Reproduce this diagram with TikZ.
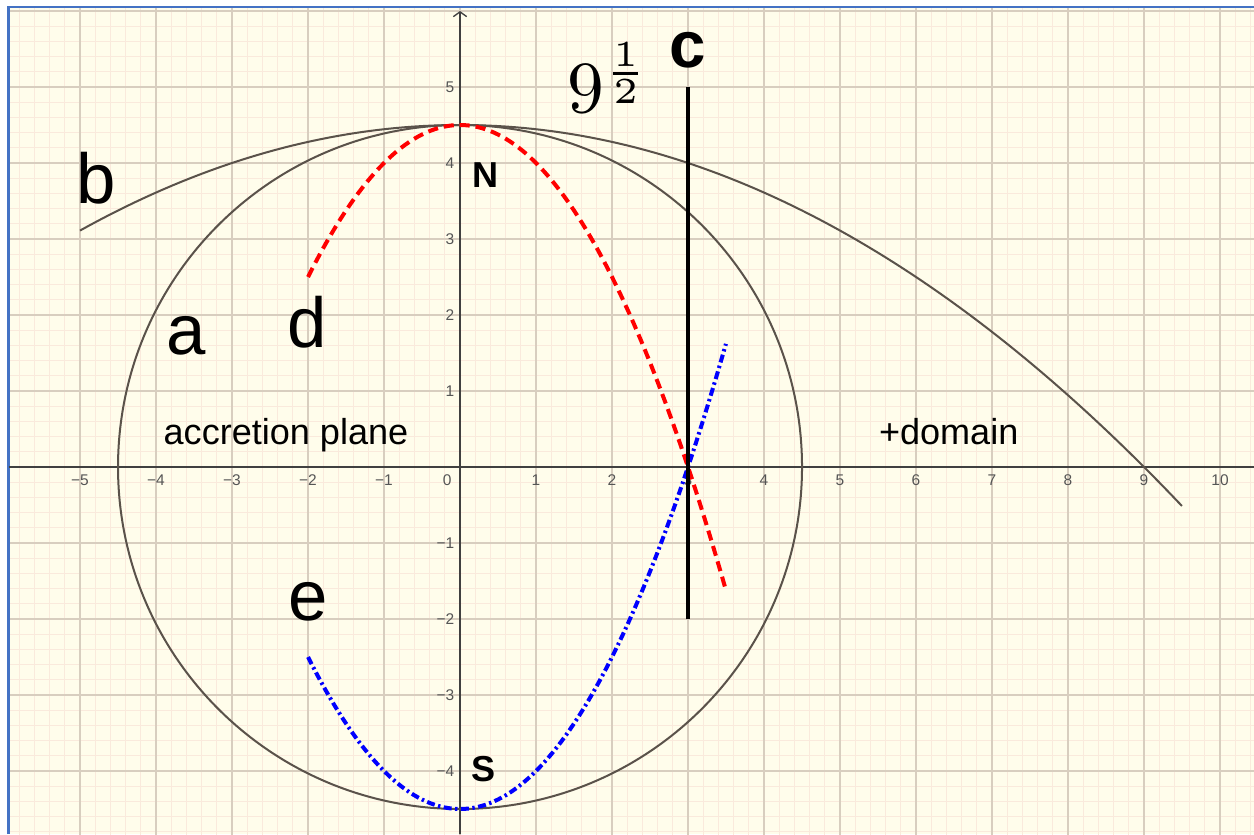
\documentclass[tikz,border=0pt]{standalone}
\usepackage{fix-cm}
\usepackage[no-math]{fontspec}
\setmainfont{Liberation Sans}
\usepackage{xcolor}
\usepackage{graphicx}
\usepackage{amsmath}
\usetikzlibrary{arrows.meta}

\definecolor{paper}{HTML}{FFFDEB}
\definecolor{minorgrid}{HTML}{FAEADC}
\definecolor{majorgrid}{HTML}{D8CEBF}
\definecolor{curvegray}{HTML}{5A524A}
\definecolor{axisgray}{HTML}{404040}
\definecolor{tickgray}{HTML}{555555}
\definecolor{frameblue}{HTML}{4472C4}

\tikzset{
    curve/.style={curvegray, line width=0.75pt},
    reddash/.style={red, line width=1.5pt, dash pattern=on 3.8pt off 2.2pt},
    bluedashdot/.style={blue, line width=1.5pt, dash pattern=on 3pt off 1.3pt on 0.9pt off 1.3pt},
    biglabel/.style={font=\fontsize{26.5}{30}\selectfont},
    pointlabel/.style={font=\fontsize{13.5}{16}\selectfont\bfseries},
    textlabel/.style={font=\fontsize{13.5}{16}\selectfont},
    ticklabel/.style={font=\fontsize{5.8}{6.5}\selectfont, text=tickgray, inner sep=0pt}
}

\begin{document}
\begin{tikzpicture}[x=1cm,y=1cm,>=Latex]
    % Page
    \useasboundingbox (-6.053,-4.829) rectangle (10.447,6.145);
    \fill[white] (-6.053,-4.829) rectangle (10.447,6.145);
    \fill[paper] (-5.935,-4.829) rectangle (10.447,6.053);

    % Grid
    \begin{scope}
        \clip (-5.935,-4.829) rectangle (10.447,6.053);
        \draw[minorgrid, line width=0.35pt, step=0.2] (-6,-5) grid (10.6,6.2);
        \draw[majorgrid, line width=0.4pt, step=1] (-6,-5) grid (10.6,6.2);
    \end{scope}

    % Frame
    \draw[frameblue, line width=1.1pt] (-5.935,-4.829) -- (-5.935,6.053) -- (10.447,6.053);

    % Axes
    \draw[axisgray, line width=0.5pt] (-5.935,0) -- (10.447,0);
    \draw[axisgray, line width=0.5pt, -{Straight Barb[length=1.8pt,width=5pt]}] (0,-4.829) -- (0,6.0);

    % Tick labels
    \node[ticklabel] (xt0) at (-0.17,-0.17) {0};
    \foreach \x in {1,...,10}
        \node[ticklabel] (xt\x) at (\x,-0.17) {\x};
    \foreach \x in {1,...,5}
        \node[ticklabel] (xtm\x) at (-\x,-0.17) {−\x};
    \foreach \y in {1,...,5}
        \node[ticklabel, anchor=east] (yt\y) at (-0.07,\y) {\y};
    \foreach \y in {1,...,4}
        \node[ticklabel, anchor=east] (ytm\y) at (-0.07,-\y) {−\y};

    % Circle a
    \draw[curve] (0,0) circle (4.5);
    % Parabola b
    \draw[curve, domain=-5:9.5, samples=120] plot (\x,{4.5-\x*\x/18});
    % Parabola d
    \draw[reddash, domain=-2:3.5, samples=100] plot (\x,{4.5-\x*\x/2});
    % Parabola e
    \draw[bluedashdot, domain=-2:3.5, samples=100] plot (\x,{\x*\x/2-4.5});
    % Line c
    \coordinate (ctop) at (3,5);
    \coordinate (cbot) at (3,-2);
    \draw[black, line width=1.25pt] (cbot) -- (ctop);

    % Curve names
    \node[biglabel] (lblb) at (-4.79,3.80) {b};
    \node[biglabel] (lbla) at (-3.60,1.72) {a};
    \node[biglabel] (lbld) at (-2.01,1.90) {d};
    \node[biglabel] (lble) at (-2.00,-1.78) {e};
    \node[font=\fontsize{24.5}{28}\selectfont\bfseries] (lblc) at (3.00,5.49) {c};
    \node (root) at (1.96,5.12) {\scalebox{2.75}{$9^{\frac{1}{2}}$}};

    % Poles
    \node[pointlabel] (north) at (0.33,3.84) {N};
    \node[pointlabel] (south) at (0.31,-3.98) {S};

    % Regions
    \node[textlabel, anchor=base] (plane) at (-2.29,0.29) {accretion plane};
    \node[textlabel, anchor=base] (domain) at (6.43,0.29) {+domain};
\end{tikzpicture}
\end{document}
